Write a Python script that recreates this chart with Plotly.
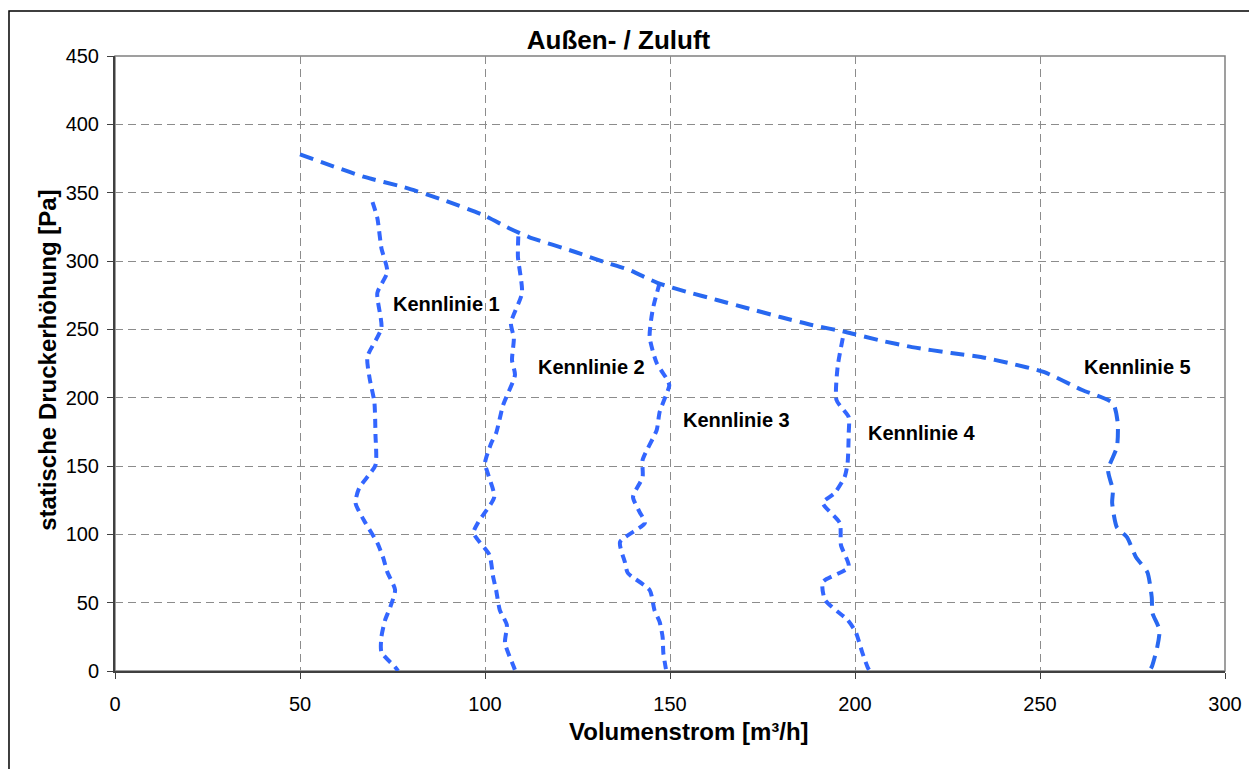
import plotly.graph_objects as go

# Kennlinie 1
k1_x = [69.6, 70.9, 72.0, 73.6, 70.9, 72.0, 68.2, 68.8, 70.1, 70.4, 70.4, 66.0, 65.0, 67.7, 70.9, 72.5, 73.6, 75.7, 74.4, 73.0, 72.0, 72.0, 75.7, 76.5]
k1_y = [343, 331.5, 309.5, 292, 276.6, 251, 229.8, 214.4, 196.8, 172.7, 150.7, 133.9, 123, 108.3, 93.7, 82.7, 72.4, 59.3, 46.8, 37.3, 24.9, 13.9, 2.9, 0]
# Kennlinie 2
k2_x = [109.0, 108.9, 110.0, 107.0, 107.8, 107.3, 108.1, 104.9, 103.0, 101.7, 100.0, 100.9, 102.5, 98.2, 96.9, 101.2, 102.2, 103.0, 104.0, 105.9, 105.4, 107.8, 108.2]
k2_y = [318, 303, 276.6, 254.6, 243.6, 227.5, 216.6, 194.6, 174, 166.8, 152, 143.4, 127.3, 109, 101, 84.9, 68.8, 59.3, 44.6, 33.7, 20.5, 2.9, 0]
# Kennlinie 3
k3_x = [147.2, 145.3, 144.5, 146.4, 149.3, 149.8, 147.2, 146.4, 142.6, 142.6, 140.0, 141.8, 143.2, 136.5, 137.8, 138.6, 144.5, 145.8, 147.2, 148.0, 148.2, 148.8, 149.0]
k3_y = [284, 264, 244.4, 225.4, 213, 209, 189.5, 176.3, 154.4, 142, 127.3, 116.3, 108.3, 94.4, 79.8, 71.7, 59.3, 44.6, 35.9, 24.9, 13.2, 2.9, 0]
# Kennlinie 4
k4_x = [196.7, 195.3, 195.0, 198.3, 198.3, 198.0, 197.2, 194.5, 191.3, 195.9, 196.2, 198.3, 191.3, 191.9, 198.0, 200.2, 202.0, 203.4, 204.0]
k4_y = [243.6, 222.4, 198.3, 185.8, 174.1, 152.2, 142, 130.2, 123, 108.3, 92.2, 76.1, 65.1, 52, 37.3, 28.5, 13.2, 2.9, 0]
# Kennlinie 5 (incl. upper envelope)
k5_x = [50.0, 67.4, 78.1, 88.8, 99.5, 106.5, 111.9, 124.4, 132.5, 139.0, 146.6, 154.7, 162.7, 170.7, 179.8, 188.6, 197.5,
        206.6, 215.4, 226.0, 234.0, 241.4, 251.0, 261.4, 269.7, 271.0, 270.8, 268.4, 269.7, 269.5, 270.8, 273.5, 276.0,
        279.0, 280.2, 280.4, 282.3, 281.7, 280.2, 279.5]
k5_y = [378, 361.5, 354, 344.6, 333.6, 324, 317.5, 306.6, 299, 293.4, 284, 277.3, 271.5, 265.6, 259, 253, 248,
        242, 237, 232.7, 229.8, 225.4, 218.8, 205.6, 196, 181.5, 164, 147, 132.4, 123, 105, 98, 83,
        72.4, 54, 42.4, 30, 17.6, 3, 0]

labels = ["Kennlinie 1", "Kennlinie 2", "Kennlinie 3", "Kennlinie 4", "Kennlinie 5"]
label_x = [89.6, 128.7, 168.0, 218.0, 276.4]
label_y = [268.6, 222.4, 183.6, 174.0, 222.4]

x_ticks = [0, 50, 100, 150, 200, 250, 300]
y_ticks = [0, 50, 100, 150, 200, 250, 300, 350, 400, 450]

FONT = "Liberation Sans, Arial, sans-serif"

W, H = 1246, 761
fig = go.Figure()
small_dash = "9px,6px"
for xs, ys in [(k1_x, k1_y), (k2_x, k2_y), (k3_x, k3_y), (k4_x, k4_y)]:
    fig.add_trace(go.Scatter(x=xs, y=ys, mode="lines",
                             line=dict(color="#3366FF", width=4, dash=small_dash, shape="spline", smoothing=0.6),
                             showlegend=False, hoverinfo="skip"))
fig.add_trace(go.Scatter(x=k5_x, y=k5_y, mode="lines",
                         line=dict(color="#2868F0", width=4, dash="14px,8px", shape="spline", smoothing=0.6),
                         showlegend=False, hoverinfo="skip"))

for t, lx, ly in zip(labels, label_x, label_y):
    fig.add_annotation(x=lx, y=ly, text="<b>" + t + "</b>", showarrow=False,
                       font=dict(family=FONT, size=20, color="black"))

# axis titles
fig.add_annotation(xref="paper", yref="paper", x=0.517, y=-0.0976, xanchor="center", yanchor="middle",
                   text="<b>Volumenstrom [m³/h]</b>", showarrow=False,
                   font=dict(family=FONT, size=24, color="black"))
fig.add_annotation(xref="paper", yref="paper", x=-0.0605, y=0.5057, xanchor="center", yanchor="middle",
                   text="<b>statische Druckerhöhung [Pa]</b>", showarrow=False, textangle=-90,
                   font=dict(family=FONT, size=24, color="black"))

# outer chart border
fig.add_shape(type="rect", xref="paper", yref="paper", x0=-0.0955, x1=1.2, y0=-0.3, y1=1.0732,
              line=dict(color="black", width=1.5), layer="below")
# plot area frame (grey top/right)
fig.add_shape(type="rect", xref="paper", yref="paper", x0=0, x1=1, y0=0, y1=1,
              line=dict(color="#808080", width=1.5), layer="below")

fig.update_layout(
    width=W, height=H,
    margin=dict(l=107, r=18, t=48, b=98),
    paper_bgcolor="white", plot_bgcolor="white",
    title=dict(text="<b>Außen- / Zuluft</b>", x=610.5 / W, xanchor="center", y=1 - 32 / H, yanchor="middle",
               xref="container", yref="container",
               font=dict(family=FONT, size=26, color="black")),
    font=dict(family=FONT, size=20, color="black"),
)
fig.update_xaxes(range=[0, 300], tickvals=x_ticks, showgrid=True, gridcolor="#8C8C8C", griddash="8px,5px",
                 gridwidth=1, showline=True, linecolor="#404040", linewidth=2, ticks="outside", ticklen=6,
                 tickcolor="#404040", zeroline=False, tickfont=dict(size=20), ticklabelstandoff=8,
                 ticklabeloverflow="allow")
fig.update_yaxes(range=[0, 450], tickvals=y_ticks, showgrid=True, gridcolor="#8C8C8C", griddash="8px,5px",
                 gridwidth=1, showline=True, linecolor="#404040", linewidth=2, ticks="outside", ticklen=6,
                 tickcolor="#404040", zeroline=False, tickfont=dict(size=20), ticklabelstandoff=4)

fig.write_html("out.html", config={"displayModeBar": False})
